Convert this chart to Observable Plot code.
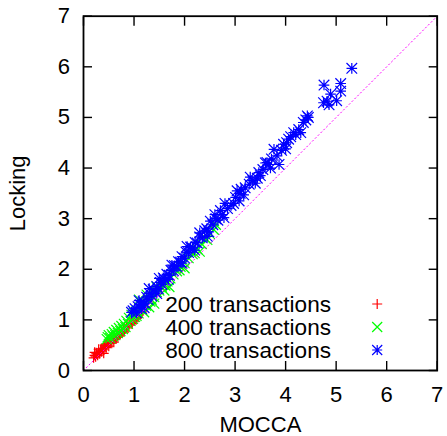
<!DOCTYPE html>
<html>
<head>
<meta charset="utf-8">
<script src="https://cdn.jsdelivr.net/npm/d3@7"></script>
<script src="https://cdn.jsdelivr.net/npm/@observablehq/plot@0.6"></script>
<style>
  html, body { margin: 0; padding: 0; background: #fff; }
</style>
</head>
<body>
<div id="chart"></div>
<script>
// ---- data ----
const ticks = [0, 1, 2, 3, 4, 5, 6, 7];
const seriesNames = ["200 transactions", "400 transactions", "800 transactions"];
const seriesColors = ["#ff0000", "#00ff00", "#0000ff"];
const xLabel = "MOCCA";
const yLabel = "Locking";
const diagonal = [0, 7];

const redX = [0.20,0.22,0.22,0.24,0.25,0.26,0.28,0.30,0.30,0.32,0.34,0.35,0.36,0.38,0.40,0.40,0.42,0.43,0.45,0.45,0.48,0.50,0.50,0.53,0.55,0.56,0.60,0.60,0.62,0.64,0.65,0.68,0.70,0.72,0.75,0.76,0.80,0.80,0.85,0.88,0.90,0.95,0.96,1.00,1.02,1.05,1.08,1.10,1.16];
const redY = [0.25,0.30,0.36,0.27,0.35,0.33,0.30,0.36,0.42,0.33,0.40,0.43,0.37,0.44,0.41,0.34,0.50,0.48,0.45,0.52,0.53,0.48,0.58,0.55,0.60,0.54,0.62,0.56,0.64,0.63,0.66,0.67,0.70,0.72,0.74,0.76,0.80,0.76,0.84,0.86,0.90,0.94,0.92,0.98,1.02,1.03,1.05,1.10,1.16];

const greenX = [0.46,0.48,0.50,0.53,0.56,0.58,0.60,0.63,0.65,0.68,0.70,0.73,0.75,0.78,0.80,0.83,0.85,0.88,0.90,0.93,0.95,0.98,1.00,1.02,1.05,1.05,1.09,1.10,1.12,1.15,1.16,1.20,1.20,1.24,1.25,1.28,1.30,1.32,1.35,1.36,1.40,1.40,1.45,1.45,1.50,1.55,1.60,1.60,1.62,1.66,1.70,1.72,1.78,1.85,1.90,1.92,2.00,2.00,2.08,2.16,2.20,2.25,2.30,2.34,2.42,2.45,2.50,2.58,2.62];
const greenY = [0.62,0.66,0.70,0.64,0.72,0.68,0.76,0.70,0.80,0.74,0.84,0.78,0.88,0.82,0.92,0.86,0.98,0.92,1.04,0.98,1.10,1.02,1.14,1.06,1.18,1.08,1.13,1.40,1.22,1.32,1.20,1.30,1.15,1.28,1.50,1.38,1.25,1.36,1.40,1.47,1.45,1.32,1.55,1.65,1.58,1.64,1.70,1.58,1.68,1.76,1.65,1.82,1.90,1.96,1.98,2.05,2.12,2.02,2.22,2.30,2.32,2.40,2.35,2.50,2.60,2.58,2.70,2.78,2.88];

const blueX = [0.95,0.98,1.02,1.05,1.08,1.10,1.12,1.15,1.18,1.20,1.22,1.25,1.28,1.30,1.31,1.35,1.38,1.42,1.45,1.45,1.48,1.50,1.52,1.55,1.58,1.62,1.65,1.68,1.70,1.73,1.75,1.78,1.80,1.85,1.88,1.92,1.95,1.95,2.00,2.03,2.05,2.08,2.12,2.16,2.20,2.21,2.25,2.30,2.30,2.35,2.40,2.44,2.45,2.48,2.51,2.56,2.60,2.62,2.66,2.71,2.75,2.78,2.80,2.85,2.92,2.97,3.01,3.04,3.08,3.10,3.12,3.17,3.20,3.28,3.30,3.35,3.40,3.44,3.47,3.50,3.55,3.60,3.63,3.67,3.70,3.72,3.77,3.83,3.87,3.92,3.96,4.00,4.02,4.06,4.10,4.16,4.20,4.26,4.30,4.35,4.40,4.43,4.45,4.75,4.76,4.82,4.86,4.89,5.01,5.09,5.09,5.31];
const blueY = [1.15,1.18,1.22,1.14,1.26,1.38,1.30,1.22,1.36,1.24,1.33,1.45,1.40,1.62,1.52,1.47,1.60,1.55,1.66,1.52,1.62,1.82,1.74,1.70,1.83,1.78,1.90,1.80,1.88,1.98,2.08,1.97,2.07,2.05,2.15,2.14,2.25,2.12,2.22,2.34,2.45,2.33,2.44,2.42,2.38,2.53,2.52,2.64,2.72,2.62,2.76,2.80,2.65,2.74,2.95,2.88,3.08,3.00,2.97,3.16,3.08,3.02,3.30,3.20,3.26,3.30,3.42,3.55,3.35,3.50,3.58,3.47,3.61,3.68,3.82,3.75,3.70,3.80,3.91,3.85,3.97,4.10,4.11,4.07,4.00,4.18,4.37,4.24,4.07,4.35,4.47,4.38,4.50,4.57,4.62,4.70,4.66,4.76,4.70,4.90,4.95,5.03,5.00,5.29,5.64,5.32,5.25,5.46,5.33,5.52,5.67,5.97];

// ---- build tables ----
const toPts = (xs, ys) => xs.map((x, i) => ({x, y: ys[i]}));
const red = toPts(redX, redY);
const green = toPts(greenX, greenY);
const blue = toPts(blueX, blueY);

// gnuplot-like point shapes (r = half size)
const gpPlus = {draw(c, size) { const h = Math.sqrt(size / Math.PI);
  c.moveTo(-h, 0); c.lineTo(h, 0); c.moveTo(0, -h); c.lineTo(0, h); }};
const gpCross = {draw(c, size) { const h = Math.sqrt(size / Math.PI);
  c.moveTo(-h, -h); c.lineTo(h, h); c.moveTo(-h, h); c.lineTo(h, -h); }};
const gpStar = {draw(c, size) { const h = Math.sqrt(size / Math.PI);
  c.moveTo(-h, 0); c.lineTo(h, 0); c.moveTo(0, -h); c.lineTo(0, h);
  c.moveTo(-h, -h); c.lineTo(h, h); c.moveTo(-h, h); c.lineTo(h, -h); }};
const symbols = [gpPlus, gpCross, gpStar];
const PR = 5;
const SW = 1.2;

const W = 447, H = 436;
const mL = 83, mR = 10.3, mT = 15.7, mB = 66;
const legendTextRight = 330.5, legendSymX = 376.7;
const legendRowDy = [-66.5, -43.5, -20.5];

const legendMarks = [];
seriesNames.forEach((name, i) => {
  legendMarks.push(Plot.text([name], {
    frameAnchor: "bottom-right", dx: legendTextRight - (W - mR), dy: legendRowDy[i] + 1,
    textAnchor: "end", lineAnchor: "middle", text: d => d, fontSize: 22.6, fill: "black"
  }));
  legendMarks.push(Plot.dot([name], {
    frameAnchor: "bottom-right", dx: legendSymX - (W - mR), dy: legendRowDy[i],
    symbol: symbols[i], r: PR, stroke: seriesColors[i], fill: "none", strokeWidth: SW
  }));
});

const chart = Plot.plot({
  width: W, height: H,
  marginLeft: mL, marginRight: mR, marginTop: mT, marginBottom: mB,
  x: {domain: [0, 7]},
  y: {domain: [0, 7]},
  style: {fontFamily: "'Liberation Sans', Arial, sans-serif", fontSize: "22px", background: "white", color: "black"},
  marks: [
    Plot.dot(red, {x: "x", y: "y", symbol: gpPlus, r: PR, stroke: seriesColors[0], fill: "none", strokeWidth: SW}),
    Plot.dot(green, {x: "x", y: "y", symbol: gpCross, r: PR, stroke: seriesColors[1], fill: "none", strokeWidth: SW}),
    Plot.dot(blue, {x: "x", y: "y", symbol: gpStar, r: PR + 0.3, stroke: seriesColors[2], fill: "none", strokeWidth: SW}),
    Plot.line(diagonal, {x: d => d, y: d => d, stroke: "#ff00ff", strokeWidth: 1, strokeDasharray: "1.2,2.8"}),
    // tick labels
    Plot.axisY(ticks, {anchor: "left", tickSize: 0, tickPadding: 13.5, fontSize: 22, label: null, tickFormat: d => String(d)}),
    Plot.axisX(ticks, {anchor: "bottom", tickSize: 0, tickPadding: 15.5, fontSize: 22, label: null, tickFormat: d => String(d)}),
    // inward ticks on all four sides
    Plot.axisY(ticks, {anchor: "left", tickSize: 9, dx: 9, tickFormat: () => "", label: null, strokeWidth: 1.4}),
    Plot.axisY(ticks, {anchor: "right", tickSize: 9, dx: -9, tickFormat: () => "", label: null, strokeWidth: 1.4}),
    Plot.axisX(ticks, {anchor: "bottom", tickSize: 9, dy: -9, tickFormat: () => "", label: null, strokeWidth: 1.4}),
    Plot.axisX(ticks, {anchor: "top", tickSize: 9, dy: 9, tickFormat: () => "", label: null, strokeWidth: 1.4}),
    Plot.frame({stroke: "black", strokeWidth: 1.8}),
    // axis titles
    Plot.text([xLabel], {frameAnchor: "bottom", dy: 54, lineAnchor: "middle", textAnchor: "middle", text: d => d, fontSize: 22, fill: "black"}),
    Plot.text([yLabel], {frameAnchor: "left", dx: 17.5 - mL, rotate: -90, lineAnchor: "middle", textAnchor: "middle", text: d => d, fontSize: 22, fill: "black"}),
    ...legendMarks
  ]
});
document.getElementById("chart").appendChild(chart);
</script>
</body>
</html>
